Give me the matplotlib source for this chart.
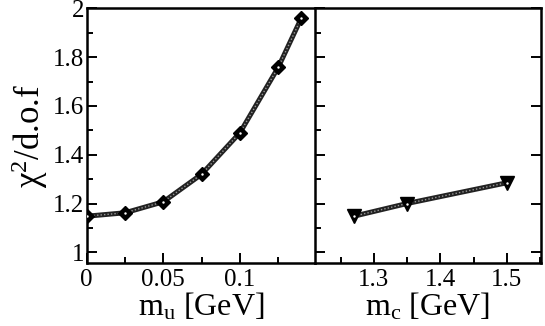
import matplotlib
matplotlib.use("Agg")
import matplotlib.pyplot as plt
from matplotlib.ticker import MultipleLocator

# left panel: chi2/dof vs light quark mass
mu_vals = [0.0, 0.025, 0.05, 0.075, 0.1, 0.125, 0.14]
chi2_mu = [1.148, 1.162, 1.207, 1.32, 1.49, 1.758, 1.959]

# right panel: chi2/dof vs charm mass
mc_vals = [1.27, 1.35, 1.5]
chi2_mc = [1.148, 1.20, 1.285]

plt.rcParams['font.family'] = ['Liberation Serif', 'DejaVu Serif']
plt.rcParams['mathtext.fontset'] = 'custom'
plt.rcParams['mathtext.rm'] = 'Liberation Serif'
plt.rcParams['mathtext.it'] = 'Liberation Serif:italic'

W, H = 545, 326
fig = plt.figure(figsize=(W / 100, H / 100), dpi=100)

bottom = 1 - 263.3 / H
top = 1 - 8.3 / H
ax1 = fig.add_axes([86.7 / W, bottom, (315 - 86.7) / W, top - bottom])
ax2 = fig.add_axes([315 / W, bottom, (541 - 315) / W, top - bottom])


def draw_series(ax, x, y, marker, ms):
    # xmgrace-like patterned thick line: dark band with light dots
    ax.plot(x, y, color='#222222', lw=3.6, solid_capstyle='butt', zorder=2)
    ax.plot(x, y, color='#999999', lw=1.0, ls=(0, (1, 1.5)), zorder=3)
    ax.plot(x, y, ls='none', marker=marker, ms=ms, mfc='black', mec='black', zorder=4)
    ax.plot(x, y, ls='none', marker='.', ms=1.5, color='white', zorder=5)


draw_series(ax1, mu_vals, chi2_mu, 'D', 7)
draw_series(ax2, mc_vals, chi2_mc, 'v', 10)

ax1.set_xlim(0, 0.149)
ax2.set_xlim(1.2115, 1.5515)
for ax in (ax1, ax2):
    ax.set_ylim(0.955, 2.0)
    ax.yaxis.set_major_locator(MultipleLocator(0.2))
    ax.yaxis.set_minor_locator(MultipleLocator(0.1))
    for sp in ax.spines.values():
        sp.set_linewidth(1.8)
    ax.tick_params(which='both', direction='in', width=1.4, labelsize=18, top=False)
    ax.tick_params(which='major', length=7)
    ax.tick_params(axis='x', pad=4)
    ax.tick_params(axis='y', pad=2)
    ax.tick_params(which='minor', length=4)

ax1.xaxis.set_major_locator(MultipleLocator(0.05))
ax1.xaxis.set_minor_locator(MultipleLocator(0.025))
ax1.set_xticks([0, 0.05, 0.1])
ax1.set_xticklabels(['0', '0.05', '0.1'])
ax1.set_yticks([1, 1.2, 1.4, 1.6, 1.8, 2])
ax1.set_yticklabels(['1', '1.2', '1.4', '1.6', '1.8', '2'])
ax1.tick_params(axis='y', right=False)
ax1.spines['right'].set_visible(False)

ax2.xaxis.set_major_locator(MultipleLocator(0.1))
ax2.xaxis.set_minor_locator(MultipleLocator(0.05))
ax2.tick_params(axis='y', left=True, right=True, labelleft=False)

ax1.set_xlabel(r'm$_{\mathrm{u}}$ [GeV]', fontsize=23, labelpad=0)
ax2.set_xlabel(r'm$_{\mathrm{c}}$ [GeV]', fontsize=23, labelpad=0)
ax1.set_ylabel('χ$^{2}$/d.o.f', fontsize=25, labelpad=2)

fig.savefig('out.png', dpi=100)
